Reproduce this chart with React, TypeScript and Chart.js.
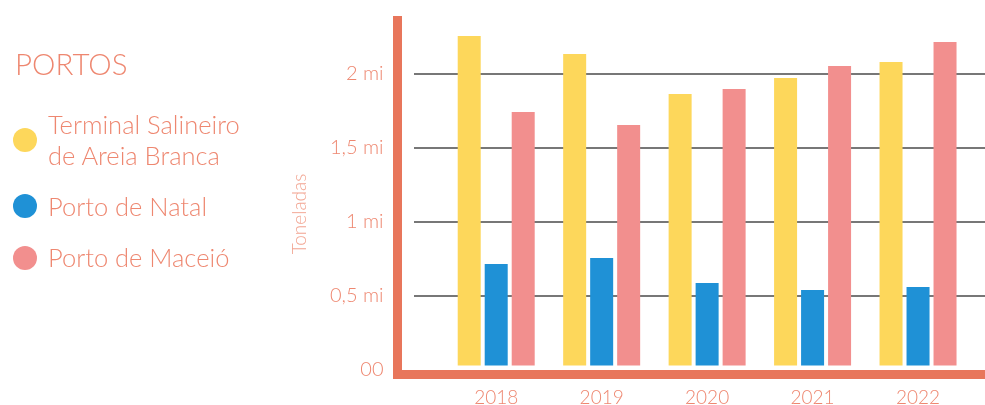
import React, { useEffect, useRef } from 'react';
import { Chart, registerables } from 'chart.js';

Chart.register(...registerables);

// ---- data ----
const years = [2018, 2019, 2020, 2021, 2022];
const salineiro = [2.257, 2.135, 1.865, 1.973, 2.081];
const natal = [0.716, 0.757, 0.588, 0.541, 0.561];
const maceio = [1.743, 1.655, 1.899, 2.054, 2.216];
const seriesNames = ['Terminal Salineiro de Areia Branca', 'Porto de Natal', 'Porto de Maceió'];
const legendLines = [['Terminal Salineiro', 'de Areia Branca'], ['Porto de Natal'], ['Porto de Maceió']];
const seriesColors = ['#FDD75B', '#1F91D6', '#F28F8E'];
const yTickValues = [0, 0.5, 1, 1.5, 2];
const yTickLabels = ['00', '0,5 mi', '1 mi', '1,5 mi', '2 mi'];
const legendTitle = 'PORTOS';
const yAxisTitle = 'Toneladas';

// ---- style ----
const AXIS_COLOR = '#E8765B';
const TEXT_COLOR = '#EE8770';
const TITLE_COLOR = '#F2A592';
const GRID_COLOR = '#4a4a4a';
const FONT = 'Lato';

const insetGrid = {
  id: 'insetGrid',
  beforeDatasetsDraw(chart: any) {
    const { ctx, chartArea, scales } = chart;
    const y = scales.y;
    ctx.save();
    ctx.strokeStyle = GRID_COLOR;
    ctx.lineWidth = 1.5;
    y.ticks.forEach((t: any) => {
      if (t.value <= 0) return;
      const py = y.getPixelForValue(t.value);
      ctx.beginPath();
      ctx.moveTo(chartArea.left + 16.5, py);
      ctx.lineTo(chartArea.right, py);
      ctx.stroke();
    });
    ctx.restore();
  },
};

export default function App() {
  const ref = useRef<HTMLCanvasElement | null>(null);

  useEffect(() => {
    if (!ref.current) return;
    const all = [salineiro, natal, maceio];
    const chart = new Chart(ref.current, {
      type: 'bar',
      data: {
        labels: years,
        datasets: all.map((vals, i) => ({
          label: seriesNames[i],
          data: vals.map((v, j) => ({ x: years[j], y: v })),
          backgroundColor: seriesColors[i],
          borderWidth: 0,
          categoryPercentage: 0.768,
          barPercentage: 0.852,
        })),
      },
      options: {
        animation: false,
        responsive: false,
        layout: { padding: { left: 280, top: 20.5, right: 0, bottom: 0 } },
        plugins: { legend: { display: false }, tooltip: { enabled: false } },
        scales: {
          x: {
            type: 'linear',
            bounds: 'data',
            offset: false,
            min: 2017.064,
            max: 2022.635,
            afterBuildTicks: (s: any) => {
              s.ticks = years.map((v) => ({ value: v }));
            },
            afterFit: (s: any) => {
              s.height = 30.5;
              s.paddingLeft = 0;
              s.paddingRight = 0;
            },
            grid: { offset: false, drawOnChartArea: false, drawTicks: false, color: 'rgba(0,0,0,0)' },
            border: { display: true, width: 9, color: AXIS_COLOR },
            ticks: {
              includeBounds: false,
              padding: 12,
              color: TEXT_COLOR,
              font: { family: FONT, size: 19, weight: '300' as any },
              callback: (v: any) => String(v),
            },
          },
          y: {
            type: 'linear',
            bounds: 'data',
            offset: false,
            min: -0.0304,
            max: 2.3615,
            afterBuildTicks: (s: any) => {
              s.ticks = yTickValues.map((v) => ({ value: v }));
            },
            afterFit: (s: any) => {
              s.width = 117.5;
              s.paddingTop = 0;
              s.paddingBottom = 0;
            },
            grid: { drawOnChartArea: false, drawTicks: false, lineWidth: 9, color: 'rgba(0,0,0,0)' },
            border: { display: true, width: 9, color: AXIS_COLOR },
            ticks: {
              includeBounds: false,
              padding: 14,
              color: TEXT_COLOR,
              font: { family: FONT, size: 20, weight: '300' as any },
              callback: (_v: any, i: number) => yTickLabels[i],
            },
          },
        },
      },
      plugins: [insetGrid],
    } as any);
    return () => chart.destroy();
  }, []);

  return (
    <div
      style={{
        position: 'fixed',
        left: 0,
        top: 0,
        width: 985,
        height: 405,
        background: '#fff',
        fontFamily: FONT,
        fontWeight: 300,
        color: TEXT_COLOR,
        overflow: 'hidden',
      }}
    >
      <canvas ref={ref} width={985} height={405} style={{ position: 'absolute', left: 0, top: 0, display: 'block' }} />
      <div style={{ position: 'absolute', left: 15, top: 49, fontSize: 29.5, lineHeight: '30px', whiteSpace: 'nowrap' }}>
        {legendTitle}
      </div>
      {legendLines.map((lines, i) => {
        const tops = [109, 190.5, 241.5];
        const dotCenters = [140, 206, 258];
        return (
          <React.Fragment key={i}>
            <div
              style={{
                position: 'absolute',
                left: 12.5,
                top: dotCenters[i] - 12,
                width: 24,
                height: 24,
                borderRadius: '50%',
                background: seriesColors[i],
              }}
            />
            <div
              style={{
                position: 'absolute',
                left: 48,
                top: tops[i],
                fontSize: 25.5,
                lineHeight: '31px',
                whiteSpace: 'nowrap',
              }}
            >
              {lines.map((l, k) => (
                <div key={k}>{l}</div>
              ))}
            </div>
          </React.Fragment>
        );
      })}
      <div
        style={{
          position: 'absolute',
          left: 298,
          top: 214,
          transform: 'translate(-50%, -50%) rotate(-90deg)',
          fontSize: 19,
          lineHeight: 1,
          whiteSpace: 'nowrap',
          color: TITLE_COLOR,
        }}
      >
        {yAxisTitle}
      </div>
    </div>
  );
}
